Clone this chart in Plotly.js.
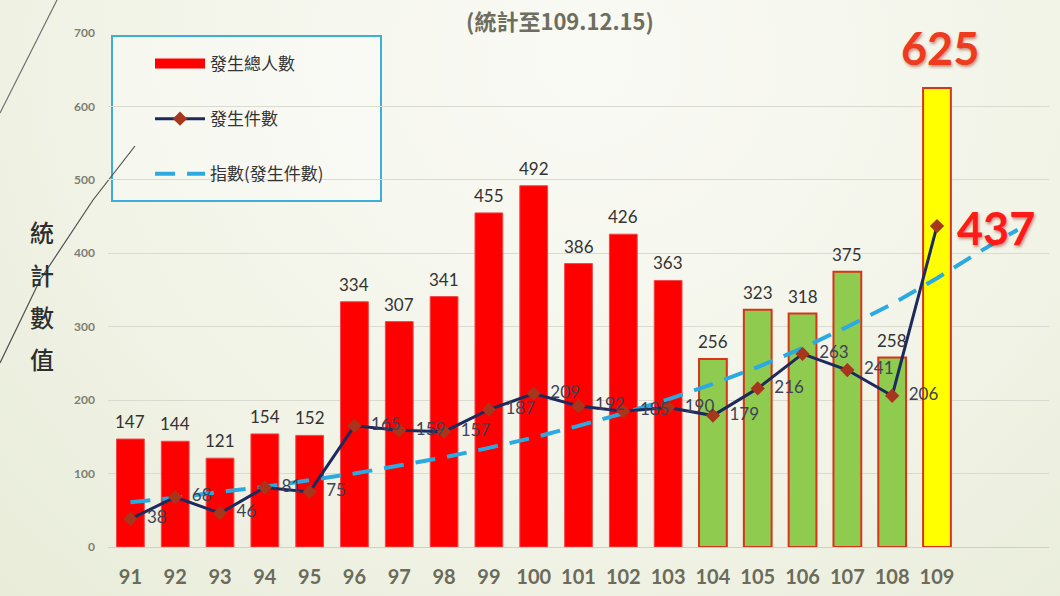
<!DOCTYPE html>
<html>
<head>
<meta charset="utf-8">
<script src="https://cdn.plot.ly/plotly-3.0.1.min.js"></script>
<style>
  html, body { margin: 0; padding: 0; }
  body {
    width: 1060px; height: 596px; overflow: hidden;
    background: radial-gradient(ellipse at 55% 10%, #fafaf5 0%, #f2f4e8 55%, #e8ecd8 100%);
  }
  #chart { width: 1060px; height: 596px; }
</style>
</head>
<body>
<div id="chart"></div>
<script>
// data
const years = [91, 92, 93, 94, 95, 96, 97, 98, 99, 100, 101, 102, 103, 104, 105, 106, 107, 108, 109];
const people = [147, 144, 121, 154, 152, 334, 307, 341, 455, 492, 386, 426, 363, 256, 323, 318, 375, 258, 625];
const cases = [38, 68, 46, 81, 75, 165, 159, 157, 187, 209, 192, 185, 190, 179, 216, 263, 241, 206, 437];
const trendYears = [91, 92, 93, 94, 95, 96, 97, 98, 99, 100, 101, 102, 103, 104, 105, 106, 107, 108, 109, 110, 110.8];
const trendCases = [61, 67, 75, 82, 91, 100, 111, 122, 135, 149, 165, 182, 201, 222, 245, 271, 300, 331, 366, 404, 432];
const yTicks = [0, 100, 200, 300, 400, 500, 600, 700];
const yTitleChars = ['統', '計', '數', '值'];

const CJK = '"Noto Sans CJK TC", "Noto Sans", sans-serif';
const NUM = 'Lato, "Noto Sans", sans-serif';

// plot area in pixels, used to place decorations
const L = 108, R = 1049, T = 33, B = 547;
const px = (x) => (x - L) / (R - L);
const py = (y) => (B - y) / (B - T);

const last = years.length - 1;
const barFill = years.map(y => y >= 109 ? '#FFFF00' : y >= 104 ? '#8FCB4E' : '#FF0000');
const barEdge = years.map(y => y >= 104 ? '#D8341C' : '#F04848');
const barEdgeW = years.map(y => y >= 104 ? 2 : 1);

const data = [
  {
    type: 'bar', x: years, y: people, width: 0.62,
    marker: { color: barFill, line: { color: barEdge, width: barEdgeW } },
    showlegend: false, hoverinfo: 'x+y'
  },
  // legend-only stand-in for the bar series (wide red swatch)
  {
    type: 'scatter', mode: 'lines', x: [null], y: [null], name: '發生總人數',
    line: { color: '#FF0000', width: 14 }, legendgroup: 'a', legendrank: 1
  },
  {
    type: 'scatter', mode: 'lines', x: trendYears, y: trendCases, name: '指數(發生件數)',
    line: { color: '#2AAAE0', width: 4, dash: '20px,12px' },
    legendgroup: 'c', legendrank: 3, hoverinfo: 'skip'
  },
  {
    type: 'scatter', mode: 'lines+markers+text', x: years, y: cases, name: '發生件數',
    line: { color: '#1C2A5E', width: 3 },
    marker: { symbol: 'diamond', size: 11, color: '#A8361C' },
    text: cases.map((v, i) => i === last ? '' : '\u00a0\u00a0' + v),
    textposition: 'middle right', cliponaxis: false,
    textfont: { family: NUM, size: 17, color: '#3D4258' },
    legendgroup: 'b', legendrank: 2
  }
];

// value labels above the bars (the last one gets the big callout instead)
const annotations = years.slice(0, last).map((yr, i) => ({
  x: yr, y: people[i], text: String(people[i]), showarrow: false,
  xanchor: 'center', yanchor: 'bottom', yshift: 5,
  font: { family: NUM, size: 17, color: '#333333' }
}));
yTitleChars.forEach((c, i) => annotations.push({
  xref: 'paper', yref: 'paper', x: px(42), y: py(232 + i * 42),
  text: c, showarrow: false, xanchor: 'center', yanchor: 'middle',
  font: { family: CJK, size: 24, color: '#2E2E2E', weight: 500 }
}));
annotations.push(
  {
    x: 109, y: people[last], text: '<b>' + people[last] + '</b>', showarrow: false,
    yanchor: 'bottom', yshift: 11, xanchor: 'center', xshift: 3,
    font: { family: NUM, size: 45, color: '#EE3B1E', shadow: '1px 2px 3px rgba(140,20,0,0.45)' }
  },
  {
    x: 109, y: cases[last], text: '<b>' + cases[last] + '</b>', showarrow: false,
    xanchor: 'left', xshift: 18, yanchor: 'middle', yshift: -2,
    font: { family: NUM, size: 45, color: '#FF1A1A', shadow: '1px 2px 3px rgba(140,20,0,0.45)' }
  }
);

const shapes = [
  // legend frame
  {
    type: 'rect', xref: 'paper', yref: 'paper', layer: 'below',
    x0: px(112), x1: px(381), y0: py(201), y1: py(36),
    line: { color: '#3BAFDA', width: 2 }, fillcolor: 'rgba(255,255,255,0.35)'
  },
  // slide decoration lines
  {
    type: 'path', xref: 'paper', yref: 'paper', layer: 'below',
    path: `M${px(57)},${py(0)} L${px(0)},${py(113)}`,
    line: { color: '#707070', width: 1.2 }
  },
  {
    type: 'path', xref: 'paper', yref: 'paper', layer: 'below',
    path: `M${px(135)},${py(146)} L${px(93)},${py(200)} L${px(40)},${py(280)} L${px(0)},${py(363)}`,
    line: { color: '#505050', width: 1.2 }
  }
];

const layout = {
  width: 1060, height: 596,
  margin: { l: L, r: 1060 - R, t: T, b: 596 - B },
  paper_bgcolor: 'rgba(0,0,0,0)', plot_bgcolor: 'rgba(0,0,0,0)',
  title: {
    text: '<b>(統計至109.12.15)</b>', x: 560 / 1060, y: 1 - 22 / 596,
    xanchor: 'center', yanchor: 'middle', xref: 'container', yref: 'container',
    font: { family: CJK, size: 22, color: '#6E6E5E' }
  },
  xaxis: {
    type: 'linear', range: [90.5, 111.5], tickvals: years, ticktext: years.map(String),
    showgrid: false, zeroline: false, showline: false, ticks: '',
    ticklabelstandoff: 16,
    tickfont: { family: NUM, size: 20, color: '#6B6B5B', weight: 'bold' }
  },
  yaxis: {
    range: [0, 700], tickvals: yTicks, showgrid: true, gridcolor: '#DADBD0', gridwidth: 1,
    zeroline: true, zerolinecolor: '#D0D0C4', showline: false, ticks: '',
    ticklabelstandoff: 12,
    tickfont: { family: NUM, size: 12, color: '#7E7E72', weight: 'bold' }
  },
  legend: {
    x: px(150), y: py(46), xanchor: 'left', yanchor: 'top',
    bgcolor: 'rgba(0,0,0,0)', borderwidth: 0,
    traceorder: 'grouped', tracegroupgap: 30, itemwidth: 50,
    font: { family: CJK, size: 17, color: '#333333' }
  },
  bargap: 0.38,
  annotations: annotations,
  shapes: shapes,
  hovermode: 'closest'
};

Plotly.newPlot('chart', data, layout, { displayModeBar: false, responsive: false });
</script>
</body>
</html>
